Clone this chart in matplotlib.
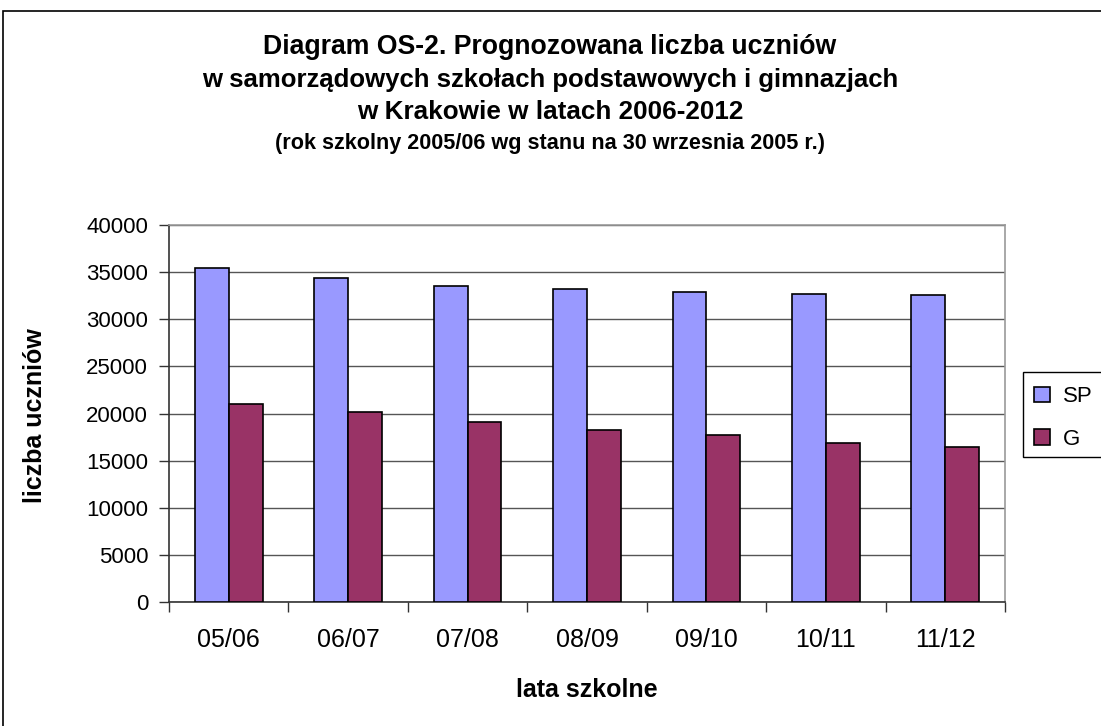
import matplotlib
matplotlib.use("Agg")
import matplotlib.pyplot as plt
import numpy as np
from matplotlib.patches import Rectangle

plt.rcParams['font.family'] = ['Liberation Sans', 'DejaVu Sans']

categories = ["05/06", "06/07", "07/08", "08/09", "09/10", "10/11", "11/12"]
sp_values = [35400, 34350, 33500, 33250, 32850, 32650, 32600]
g_values = [21050, 20200, 19150, 18300, 17700, 16880, 16420]
series_names = ["SP", "G"]
y_ticks = [0, 5000, 10000, 15000, 20000, 25000, 30000, 35000, 40000]

W, H = 1101, 726
fig = plt.figure(figsize=(W / 100, H / 100), dpi=100)

# outer frame (right and bottom edges fall outside the picture)
fig.patches.append(Rectangle((3 / W, -10 / H), (W + 20) / W, (H - 1) / H,
                             transform=fig.transFigure, fill=False,
                             edgecolor='black', linewidth=1.2))

ax = fig.add_axes([169 / W, (H - 602) / H, 836 / W, 377 / H])
x = np.arange(len(categories))
w = 0.284
ax.bar(x - w / 2, sp_values, w, color='#9999FF', edgecolor='black', linewidth=1.2,
       label=series_names[0], zorder=3)
ax.bar(x + w / 2, g_values, w, color='#993366', edgecolor='black', linewidth=1.2,
       label=series_names[1], zorder=3)

ax.set_xlim(-0.5, len(categories) - 0.5)
ax.set_ylim(0, 40000)
ax.set_yticks(y_ticks)
ax.set_yticklabels([str(v) for v in y_ticks], fontsize=16)
ax.set_xticks(x)
ax.set_xticklabels(categories, fontsize=18)
ax.tick_params(axis='x', length=0, pad=19)
ax.set_xticks(np.arange(-0.5, len(categories), 1), minor=True)
ax.tick_params(axis='x', which='minor', length=7, width=1, color='#333333', direction='out')
ax.tick_params(axis='y', length=7, width=1, color='#333333', direction='out', pad=8)
ax.grid(axis='y', color='#555555', linewidth=1, zorder=0)
for s in ['top', 'right']:
    ax.spines[s].set_color('#999999')
for s in ['left', 'bottom']:
    ax.spines[s].set_color('#333333')
for s in ax.spines.values():
    s.set_linewidth(1.2)

fig.text(35 / W, 1 - 416 / H, "liczba uczniów", rotation=90,
         ha='center', va='center', fontsize=18, fontweight='bold')
fig.text(587 / W, 1 - 690 / H, "lata szkolne",
         ha='center', va='center', fontsize=18, fontweight='bold')

cx = 550 / W
fig.text(cx, 1 - 47 / H, "Diagram OS-2. Prognozowana liczba uczniów",
         ha='center', va='center', fontsize=19.2, fontweight='bold')
fig.text(cx, 1 - 80 / H, "w samorządowych szkołach podstawowych i gimnazjach",
         ha='center', va='center', fontsize=18.5, fontweight='bold')
fig.text(cx, 1 - 112 / H, "w Krakowie w latach 2006-2012",
         ha='center', va='center', fontsize=18.8, fontweight='bold')
fig.text(cx, 1 - 143 / H, "(rok szkolny 2005/06 wg stanu na 30 wrzesnia 2005 r.)",
         ha='center', va='center', fontsize=15.6, fontweight='bold')

# legend box (extends past right edge as in the reference)
fig.patches.append(Rectangle((1023 / W, 1 - 457 / H), 100 / W, 85 / H,
                             transform=fig.transFigure, fill=True, facecolor='white',
                             edgecolor='black', linewidth=1, zorder=5))
leg = fig.legend(loc='upper left', bbox_to_anchor=(1023 / W, 1 - 375 / H),
                 fontsize=16, frameon=False,
                 handlelength=0.7, handleheight=0.7, handletextpad=0.6,
                 borderpad=0.5, labelspacing=0.98, borderaxespad=0)
leg.set_zorder(6)

fig.savefig("out.png", dpi=100)
